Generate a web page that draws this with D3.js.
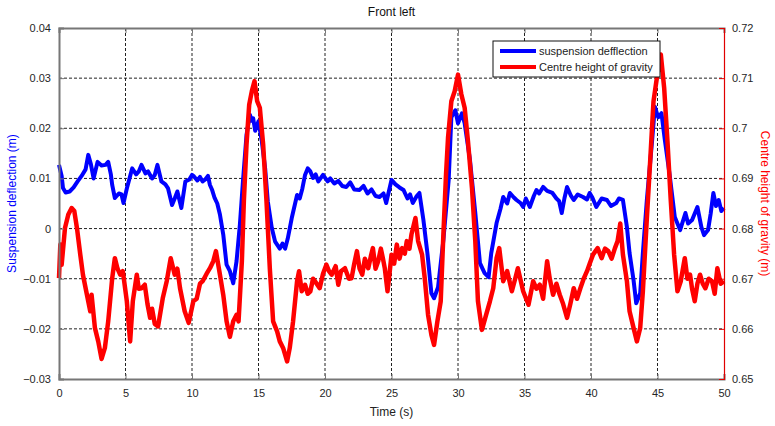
<!DOCTYPE html>
<html>
<head>
<meta charset="utf-8">
<script src="https://cdn.jsdelivr.net/npm/d3@7"></script>
<style>
  body { margin: 0; background: #fff; }
  text { font-family: "Liberation Sans", Arial, sans-serif; }
</style>
</head>
<body>
<div id="chart"></div>
<script>
// time ticks and axis ticks
const timeTicks = [0, 5, 10, 15, 20, 25, 30, 35, 40, 45, 50];
const leftTicks = [-0.03, -0.02, -0.01, 0, 0.01, 0.02, 0.03, 0.04];
const rightTicks = [0.65, 0.66, 0.67, 0.68, 0.69, 0.7, 0.71, 0.72];

// suspension deflection (m) -> left axis, [time, value]
const suspension = [
  [0,0.0127],[0.2,0.0105],[0.3,0.0081],[0.5,0.0072],[0.8,0.0074],[1.1,0.0082],[1.4,0.0094],[1.7,0.0105],
  [2.0,0.0118],[2.2,0.0147],[2.4,0.0128],[2.6,0.0100],[2.9,0.0133],[3.2,0.0126],[3.5,0.0127],[3.7,0.0133],
  [3.9,0.0108],[4.0,0.0087],[4.2,0.0061],[4.5,0.0070],[4.7,0.0068],[4.85,0.0051],[5.1,0.0080],[5.3,0.0100],
  [5.5,0.0120],[5.8,0.0108],[6.0,0.0114],[6.2,0.0127],[6.5,0.0110],[6.7,0.0114],[7.0,0.0100],[7.2,0.0107],
  [7.4,0.0127],[7.7,0.0094],[8.0,0.0088],[8.2,0.0080],[8.5,0.0047],[8.7,0.0060],[8.9,0.0074],[9.2,0.0041],
  [9.5,0.0094],[9.8,0.0098],[10.0,0.0107],[10.15,0.0104],[10.4,0.0096],[10.6,0.0103],[10.8,0.0094],[11.0,0.0098],
  [11.2,0.0105],[11.35,0.0087],[11.5,0.0078],[11.7,0.0061],[11.9,0.0050],[12.1,0.0028],[12.35,-0.0012],[12.6,-0.0072],
  [12.85,-0.0085],[13.1,-0.0109],[13.35,-0.0065],[13.6,0.0008],[13.85,0.0101],[14.1,0.0187],[14.35,0.0227],[14.5,0.0215],
  [14.6,0.0220],[14.75,0.0195],[15.0,0.0214],[15.25,0.0174],[15.5,0.0120],[15.7,0.0054],[16.0,0.0001],[16.25,-0.0026],
  [16.6,-0.0040],[16.8,-0.0030],[17.0,-0.0040],[17.2,-0.0020],[17.5,0.0021],[17.9,0.0067],[18.1,0.0060],[18.3,0.0080],
  [18.5,0.0107],[18.7,0.0120],[18.9,0.0114],[19.1,0.0101],[19.3,0.0108],[19.5,0.0094],[19.85,0.0107],[20.2,0.0094],
  [20.4,0.0100],[20.7,0.0090],[21.0,0.0095],[21.3,0.0085],[21.6,0.0083],[21.9,0.0092],[22.2,0.0078],[22.6,0.0077],
  [22.9,0.0085],[23.2,0.0070],[23.5,0.0078],[23.8,0.0065],[24.1,0.0063],[24.4,0.0070],[24.6,0.0051],[25.0,0.0097],
  [25.3,0.0088],[25.6,0.0082],[25.9,0.0077],[26.2,0.0060],[26.4,0.0068],[26.6,0.0051],[26.9,0.0065],[27.1,0.0071],
  [27.4,0.0017],[27.7,-0.0049],[28.0,-0.0129],[28.2,-0.0139],[28.5,-0.0117],[28.9,-0.0023],[29.3,0.0097],[29.5,0.0222],
  [29.8,0.0236],[30.0,0.0210],[30.3,0.0230],[30.5,0.0210],[30.9,0.0137],[31.3,0.0031],[31.65,-0.0069],[32.0,-0.0089],
  [32.3,-0.0097],[32.5,-0.0049],[32.9,0.0011],[33.2,0.0040],[33.4,0.0063],[33.7,0.0050],[33.9,0.0071],[34.2,0.0062],
  [34.4,0.0057],[34.7,0.0051],[34.9,0.0043],[35.1,0.0060],[35.4,0.0043],[35.7,0.0065],[35.9,0.0077],[36.1,0.0070],
  [36.4,0.0083],[36.7,0.0075],[37.1,0.0071],[37.4,0.0060],[37.6,0.0055],[37.8,0.0031],[38.0,0.0060],[38.2,0.0083],
  [38.5,0.0065],[38.7,0.0057],[39.0,0.0068],[39.4,0.0063],[39.7,0.0058],[39.9,0.0071],[40.1,0.0062],[40.4,0.0043],
  [40.8,0.0060],[41.2,0.0057],[41.5,0.0045],[41.9,0.0051],[42.1,0.0060],[42.4,0.0057],[42.7,0.0003],[42.9,-0.0049],
  [43.2,-0.0103],[43.4,-0.0149],[43.7,-0.0129],[43.9,-0.0049],[44.2,0.0057],[44.6,0.0177],[44.8,0.0243],[45.05,0.0222],
  [45.3,0.0230],[45.55,0.0177],[45.9,0.0110],[46.3,0.0023],[46.7,-0.0003],[47.1,0.0031],[47.3,0.0010],[47.6,0.0017],
  [48.0,0.0043],[48.3,0.0003],[48.5,-0.0013],[48.8,-0.0003],[49.0,0.0030],[49.2,0.0071],[49.4,0.0045],[49.6,0.0057],
  [49.8,0.0035],[50.0,0.0041]
];

// centre height of gravity (m) -> right axis, [time, value]
const centreHeight = [
  [0,0.6701],[0.1,0.6768],[0.2,0.6728],[0.45,0.6801],[0.7,0.6828],[0.95,0.6841],[1.15,0.6835],[1.35,0.6801],
  [1.6,0.6748],[1.8,0.6708],[2.1,0.6668],[2.35,0.6635],[2.45,0.6668],[2.7,0.6602],[2.95,0.6575],[3.2,0.6540],
  [3.45,0.6562],[3.7,0.6615],[4.0,0.6701],[4.2,0.6741],[4.4,0.6720],[4.6,0.6708],[4.8,0.6715],[5.1,0.6655],
  [5.35,0.6575],[5.55,0.6655],[5.85,0.6708],[6.0,0.6680],[6.2,0.6681],[6.45,0.6688],[6.65,0.6650],[6.85,0.6622],
  [7.0,0.6640],[7.2,0.6610],[7.45,0.6605],[7.8,0.6661],[8.1,0.6695],[8.4,0.6741],[8.7,0.6708],[8.9,0.6720],
  [9.1,0.6681],[9.45,0.6635],[9.75,0.6612],[10.1,0.6655],[10.35,0.6660],[10.6,0.6690],[10.8,0.6695],[11.1,0.6710],
  [11.35,0.6721],[11.6,0.6735],[11.8,0.6755],[12.1,0.6708],[12.35,0.6668],[12.6,0.6615],[12.85,0.6584],[13.1,0.6615],
  [13.35,0.6628],[13.5,0.6615],[13.75,0.6735],[13.9,0.6855],[14.1,0.6968],[14.3,0.7047],[14.5,0.7074],[14.7,0.7094],
  [14.9,0.7054],[15.1,0.7041],[15.35,0.6968],[15.6,0.6855],[15.85,0.6721],[16.1,0.6615],[16.4,0.6595],[16.6,0.6575],
  [16.85,0.6562],[17.15,0.6535],[17.35,0.6562],[17.6,0.6615],[17.9,0.6695],[18.05,0.6715],[18.25,0.6675],[18.5,0.6688],
  [18.7,0.6670],[18.9,0.6675],[19.1,0.6700],[19.25,0.6695],[19.6,0.6681],[19.85,0.6710],[20.1,0.6728],[20.3,0.6715],
  [20.5,0.6708],[20.8,0.6725],[21.0,0.6688],[21.2,0.6715],[21.5,0.6721],[21.8,0.6700],[22.0,0.6701],[22.2,0.6730],
  [22.4,0.6755],[22.6,0.6720],[22.8,0.6708],[23.0,0.6740],[23.25,0.6721],[23.45,0.6745],[23.6,0.6761],[23.8,0.6720],
  [24.0,0.6735],[24.2,0.6760],[24.35,0.6741],[24.5,0.6720],[24.7,0.6675],[24.85,0.6710],[25.0,0.6748],[25.2,0.6730],
  [25.4,0.6768],[25.6,0.6740],[25.8,0.6761],[26.0,0.6750],[26.15,0.6775],[26.35,0.6760],[26.5,0.6788],[26.8,0.6821],
  [27.0,0.6775],[27.3,0.6748],[27.5,0.6701],[27.75,0.6628],[28.0,0.6588],[28.2,0.6568],[28.45,0.6615],[28.7,0.6655],
  [28.9,0.6788],[29.1,0.6908],[29.25,0.6981],[29.5,0.7054],[29.75,0.7074],[30.0,0.7107],[30.25,0.7068],[30.5,0.7041],
  [30.75,0.6974],[31.05,0.6881],[31.3,0.6775],[31.5,0.6655],[31.8,0.6598],[32.05,0.6622],[32.4,0.6655],[32.65,0.6681],
  [32.9,0.6741],[33.1,0.6761],[33.4,0.6695],[33.7,0.6715],[34.05,0.6675],[34.3,0.6700],[34.5,0.6721],[34.9,0.6675],
  [35.3,0.6648],[35.65,0.6695],[35.9,0.6680],[36.15,0.6688],[36.4,0.6660],[36.7,0.6735],[36.9,0.6700],[37.15,0.6668],
  [37.4,0.6690],[37.65,0.6668],[37.9,0.6650],[38.2,0.6622],[38.45,0.6650],[38.7,0.6681],[38.95,0.6660],[39.2,0.6681],
  [39.45,0.6700],[39.7,0.6715],[39.9,0.6730],[40.15,0.6748],[40.5,0.6761],[40.8,0.6741],[41.05,0.6760],[41.3,0.6755],
  [41.55,0.6740],[41.8,0.6761],[42.0,0.6775],[42.2,0.6810],[42.4,0.6748],[42.7,0.6695],[42.9,0.6635],[43.2,0.6602],
  [43.45,0.6575],[43.7,0.6602],[43.9,0.6675],[44.2,0.6821],[44.45,0.6935],[44.7,0.7054],[44.95,0.7100],[45.25,0.7147],
  [45.5,0.7081],[45.75,0.6974],[46.0,0.6855],[46.25,0.6748],[46.5,0.6675],[46.75,0.6695],[47.05,0.6741],[47.25,0.6700],
  [47.45,0.6708],[47.6,0.6680],[47.8,0.6655],[48.0,0.6690],[48.2,0.6708],[48.4,0.6690],[48.6,0.6681],[48.85,0.6700],
  [49.1,0.6695],[49.3,0.6670],[49.5,0.6721],[49.75,0.6690],[50.0,0.6695]
];

const width = 775, height = 426;
const margin = {top: 28, right: 51, bottom: 47, left: 59};
const innerW = width - margin.left - margin.right;
const innerH = height - margin.top - margin.bottom;

const svg = d3.select("#chart").append("svg")
    .attr("width", width)
    .attr("height", height)
    .style("background", "#fff");

const x = d3.scaleLinear().domain([0, 50]).range([0, innerW]);
const yL = d3.scaleLinear().domain([-0.03, 0.04]).range([innerH, 0]);
const yR = d3.scaleLinear().domain([0.65, 0.72]).range([innerH, 0]);

const g = svg.append("g").attr("transform", `translate(${margin.left},${margin.top})`);

// grid
g.append("g").selectAll("line").data(timeTicks.slice(1, -1)).join("line")
    .attr("x1", d => x(d)).attr("x2", d => x(d))
    .attr("y1", 0).attr("y2", innerH)
    .attr("stroke", "#222").attr("stroke-width", 1).attr("stroke-dasharray", "3,2");
g.append("g").selectAll("line").data(leftTicks.slice(1, -1)).join("line")
    .attr("x1", 0).attr("x2", innerW)
    .attr("y1", d => yL(d)).attr("y2", d => yL(d))
    .attr("stroke", "#222").attr("stroke-width", 1).attr("stroke-dasharray", "3,2");

// lines
const lineL = d3.line().x(d => x(d[0])).y(d => yL(d[1]));
const lineR = d3.line().x(d => x(d[0])).y(d => yR(d[1]));

g.append("path").datum(suspension)
    .attr("d", lineL).attr("fill", "none")
    .attr("stroke", "#0000ff").attr("stroke-width", 4).attr("stroke-linejoin", "round");
g.append("path").datum(centreHeight)
    .attr("d", lineR).attr("fill", "none")
    .attr("stroke", "#ff0000").attr("stroke-width", 4.5).attr("stroke-linejoin", "round");

// axes (MATLAB style: ticks inside)
const xAxis = g.append("g").attr("transform", `translate(0,${innerH})`)
    .call(d3.axisBottom(x).tickValues(timeTicks).tickSize(-5).tickPadding(10).tickFormat(d3.format("d")));
const xTop = g.append("g")
    .call(d3.axisTop(x).tickValues(timeTicks).tickSize(-5).tickFormat(""));
const leftAxis = g.append("g")
    .call(d3.axisLeft(yL).tickValues(leftTicks).tickSize(-5).tickPadding(8).tickFormat(d => d3.format("")(+d.toFixed(2))));
const rightAxis = g.append("g").attr("transform", `translate(${innerW},0)`)
    .call(d3.axisRight(yR).tickValues(rightTicks).tickSize(-5).tickPadding(8).tickFormat(d => d3.format("")(+d.toFixed(2))));

[xAxis, xTop, leftAxis].forEach(a => {
  a.select(".domain").attr("stroke", "#777").attr("stroke-width", 2);
  a.selectAll(".tick line").attr("stroke", "#777");
});
rightAxis.select(".domain").attr("stroke", "#e00000").attr("stroke-width", 1.2);
rightAxis.selectAll(".tick line").attr("stroke", "#e00000");
svg.selectAll(".tick text")
    .style("font-family", "'Liberation Sans', Arial, sans-serif")
    .style("font-size", "11px").attr("fill", "#262626");

// title and labels
svg.append("text").attr("x", margin.left + innerW / 2).attr("y", 16)
    .attr("text-anchor", "middle").style("font-size", "12px").attr("fill", "#111")
    .text("Front left");
svg.append("text").attr("x", margin.left + innerW / 2).attr("y", 416)
    .attr("text-anchor", "middle").style("font-size", "12px").attr("fill", "#222")
    .text("Time (s)");
svg.append("text")
    .attr("transform", `translate(16,${margin.top + innerH / 2}) rotate(-90)`)
    .attr("text-anchor", "middle").style("font-size", "12px").attr("fill", "#0000ff")
    .text("Suspension deflection (m)");
svg.append("text")
    .attr("transform", `translate(761,${margin.top + innerH / 2}) rotate(90)`)
    .attr("text-anchor", "middle").style("font-size", "12px").attr("fill", "#ff0000")
    .text("Centre height of gravity (m)");

// legend
const legend = svg.append("g").attr("transform", "translate(493,41)");
legend.append("rect").attr("width", 167).attr("height", 36)
    .attr("fill", "#fff").attr("stroke", "#111").attr("stroke-width", 1);
const legendItems = [
  {label: "suspension defflection", color: "#0000ff"},
  {label: "Centre height of gravity", color: "#ff0000"}
];
legendItems.forEach((d, i) => {
  const yy = 10 + i * 16;
  legend.append("line").attr("x1", 7).attr("x2", 43).attr("y1", yy).attr("y2", yy)
      .attr("stroke", d.color).attr("stroke-width", 4);
  legend.append("text").attr("x", 46).attr("y", yy + 4)
      .style("font-size", "11px").attr("fill", "#222").text(d.label);
});
</script>
</body>
</html>
